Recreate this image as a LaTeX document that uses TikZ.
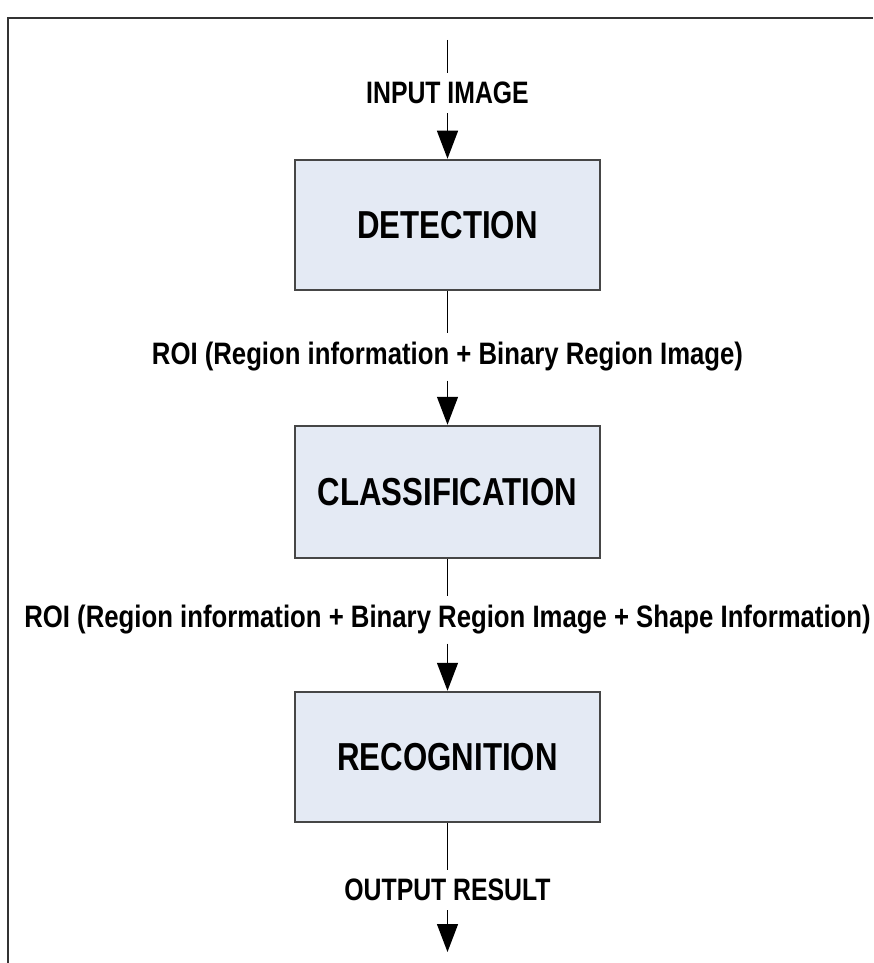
\documentclass[tikz,border=0pt]{standalone}
\usepackage{fontspec}
\setmainfont{Liberation Sans}[FakeStretch=0.8]
\newfontfamily\roifont{Liberation Sans}[FakeStretch=0.83]
\usetikzlibrary{arrows.meta}
\definecolor{boxfill}{RGB}{228,234,244}
\definecolor{boxline}{RGB}{70,70,70}
\begin{document}
\begin{tikzpicture}[x=1pt,y=-1pt,
  stagebox/.style={draw=boxline, line width=2.5pt, fill=boxfill,
    minimum width=305pt, minimum height=130pt, inner sep=0pt,
    font=\bfseries\fontsize{39}{39}\selectfont},
  flowlabel/.style={fill=white, inner xsep=2pt, inner ysep=9pt,
    font=\bfseries\fontsize{31}{31}\selectfont},
  roilabel/.style={flowlabel, inner xsep=0pt, font=\roifont\bfseries\fontsize{31}{31}\selectfont},
  flow/.style={line width=1.3pt, draw=black},
  flowarrow/.style={flow, -{Triangle[width=21pt,length=28pt]}}]
  \useasboundingbox (0,0) rectangle (873,963);
  \clip (0,0) rectangle (873,963);
  % pipeline stages
  \node[stagebox] (det) at (447.5,225) {DETECTION};
  \node[stagebox, minimum height=132pt] (cls) at (447.5,492) {CLASSIFICATION};
  \node[stagebox] (rec) at (447.5,757) {RECOGNITION};
  % data passed between stages
  \coordinate (src) at (447.5,40);
  \coordinate (dst) at (447.5,952);
  \node[flowlabel] (inlbl) at (447.5,93) {INPUT IMAGE};
  \node[roilabel] (roi1) at (447.5,357) {ROI (Region information + Binary Region Image)};
  \node[roilabel] (roi2) at (447.5,620) {ROI (Region information + Binary Region Image + Shape Information)};
  \node[flowlabel] (outlbl) at (447.5,890) {OUTPUT RESULT};
  % connectors
  \draw[flow] (src) -- (inlbl);
  \draw[flowarrow] (inlbl) -- (det);
  \draw[flow] (det) -- (roi1);
  \draw[flowarrow] (roi1) -- (cls);
  \draw[flow] (cls) -- (roi2);
  \draw[flowarrow] (roi2) -- (rec);
  \draw[flow] (rec) -- (outlbl);
  \draw[flowarrow] (outlbl) -- (dst);
  % outer frame, drawn last so the labels do not hide it
  \draw[line width=2.2pt, black!80] (8,963) -- (8,18) -- (873,18);
\end{tikzpicture}
\end{document}
